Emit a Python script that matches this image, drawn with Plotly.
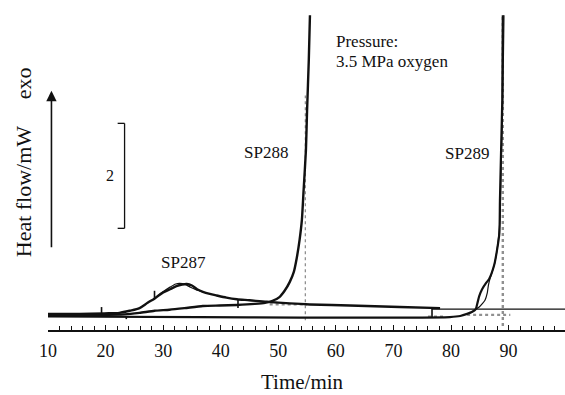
import plotly.graph_objects as go

# ---- data (time in min, heat flow in mW relative to the initial baseline) ----
sp287_t = [10, 15.5, 19.8, 22.4, 24.2, 25.9, 27.3, 28.6, 30.0, 31.2, 32.3, 33.3, 34.1, 35.0,
           35.9, 36.9, 38.1, 39.3, 41.0, 42.8, 45.0, 48.0, 52.0, 55.5, 62.4, 71.1, 78.1]
sp287_y = [0.04, 0.04, 0.05, 0.06, 0.10, 0.15, 0.25, 0.34, 0.45, 0.51, 0.57, 0.60, 0.61, 0.58,
           0.51, 0.46, 0.42, 0.39, 0.35, 0.32, 0.30, 0.27, 0.24, 0.22, 0.20, 0.17, 0.15]

sp287b_t = [28.6, 30.0, 31.2, 32.2, 32.9, 33.8, 34.7, 35.7, 36.9]
sp287b_y = [0.34, 0.46, 0.55, 0.61, 0.62, 0.60, 0.55, 0.50, 0.46]

sp288_t = [10, 19.0, 23.3, 25.9, 28.5, 31.1, 33.7, 36.9, 39.8, 42.8, 45.9, 47.7, 49.0, 50.2,
           51.1, 52.0, 52.7, 53.2, 53.7, 54.1, 54.4, 54.8, 55.0, 55.3, 55.5]
sp288_y = [0.02, 0.02, 0.03, 0.06, 0.10, 0.12, 0.15, 0.19, 0.20, 0.21, 0.23, 0.25, 0.29, 0.36,
           0.48, 0.65, 0.84, 1.10, 1.45, 1.83, 2.40, 3.16, 3.92, 4.88, 5.73]

sp289_t = [10, 36.3, 53.7, 71.1, 79.8, 81.6, 82.8, 83.7, 84.3, 84.6, 84.9, 85.4, 86.1, 86.6,
           87.5, 88.0, 88.4, 88.5, 88.7, 88.9, 89.0]
sp289_y = [-0.01, -0.02, -0.03, -0.03, -0.02, 0.00, 0.04, 0.08, 0.13, 0.25, 0.38, 0.51, 0.63, 0.70,
           0.97, 1.26, 1.58, 2.21, 3.16, 4.11, 5.73]

sp289b_t = [83.7, 84.3, 84.9, 85.4, 85.9, 86.3, 86.5, 86.8, 87.5, 88.0, 88.5, 88.7, 89.0, 89.2]
sp289b_y = [0.08, 0.13, 0.17, 0.23, 0.30, 0.44, 0.59, 0.72, 0.97, 1.26, 1.83, 2.78, 4.11, 5.73]

ext_t = [76.7, 99.8]
ext_y = [0.13, 0.13]

# integration limit markers
mark_t = [19.3, 23.6, 28.5, 43.0, 76.7]
mark_y0 = [0.04, 0.00, 0.34, 0.32, 0.15]
mark_y1 = [0.17, -0.06, 0.48, 0.15, -0.04]

# dotted construction lines
dot_v_t = [54.7, 89.0]
dot_v_y0 = [-0.08, -0.19]
dot_v_y1 = [4.2, 5.73]
dot_v_w = [1.3, 2.4]
dot_h_t0 = [48.5, 82.8, 76.0]
dot_h_t1 = [55.0, 90.3, 79.0]
dot_h_y = [0.22, 0.02, -0.01]

x_ticks = [10, 20, 30, 40, 50, 60, 70, 80, 90]
scale_bar_mw = 2

FONT = "Liberation Serif, Times New Roman, Times, serif"
BLACK = "#111111"
GREY = "#909090"

fig = go.Figure()

for t, a, b, w in zip(dot_v_t, dot_v_y0, dot_v_y1, dot_v_w):
    fig.add_trace(go.Scatter(x=[t, t], y=[a, b], mode="lines",
                             line=dict(color=GREY, width=w, dash="dot"), hoverinfo="skip"))
for a, b, y in zip(dot_h_t0, dot_h_t1, dot_h_y):
    fig.add_trace(go.Scatter(x=[a, b], y=[y, y], mode="lines",
                             line=dict(color=GREY, width=2.2, dash="dot"), hoverinfo="skip"))

fig.add_trace(go.Scatter(x=ext_t, y=ext_y, mode="lines", line=dict(color=BLACK, width=1.2)))
fig.add_trace(go.Scatter(x=sp289_t, y=sp289_y, mode="lines",
                         line=dict(color=BLACK, width=2.2, shape="spline", smoothing=0.6)))
fig.add_trace(go.Scatter(x=sp289b_t, y=sp289b_y, mode="lines",
                         line=dict(color=BLACK, width=1.2, shape="spline", smoothing=0.6)))
fig.add_trace(go.Scatter(x=sp288_t, y=sp288_y, mode="lines",
                         line=dict(color=BLACK, width=2.4, shape="spline", smoothing=0.6)))
fig.add_trace(go.Scatter(x=sp287_t, y=sp287_y, mode="lines",
                         line=dict(color=BLACK, width=2.4, shape="spline", smoothing=0.8)))
fig.add_trace(go.Scatter(x=sp287b_t, y=sp287b_y, mode="lines",
                         line=dict(color=BLACK, width=1.2, shape="spline", smoothing=0.8)))
for t, a, b in zip(mark_t, mark_y0, mark_y1):
    fig.add_trace(go.Scatter(x=[t, t], y=[a, b], mode="lines",
                             line=dict(color=BLACK, width=1.6), hoverinfo="skip"))

sb_x, sb_top = 23.3, 3.67
fig.add_shape(type="line", x0=sb_x, x1=sb_x, y0=sb_top - scale_bar_mw, y1=sb_top,
              line=dict(color=BLACK, width=1.3))
for yy in (sb_top, sb_top - scale_bar_mw):
    fig.add_shape(type="line", x0=sb_x - 1.2, x1=sb_x, y0=yy, y1=yy, line=dict(color=BLACK, width=1.3))

def txt(x, y, s, size=17, **kw):
    d = dict(x=x, y=y, text=s, showarrow=False, xanchor=kw.pop("xanchor", "center"),
             yanchor=kw.pop("yanchor", "middle"), font=dict(family=FONT, size=size, color=BLACK))
    d.update(kw)
    return d

ann = []
ann.append(txt(20.7, sb_top - scale_bar_mw / 2, str(scale_bar_mw), size=16))
ann.append(dict(x=10.6, y=4.29, ax=0, ay=158, text="", showarrow=True, arrowhead=2,
                arrowsize=1.3, arrowwidth=1.6, arrowcolor=BLACK))
ann.append(txt(33.6, 1.01, "SP287"))
ann.append(txt(47.8, 3.12, "SP288"))
ann.append(txt(82.8, 3.10, "SP289"))
ann.append(txt(59.6, 5.22, "Pressure:", xanchor="left"))
ann.append(txt(59.6, 4.84, "3.5 MPa oxygen", xanchor="left"))
ann.append(txt(0.493, -0.158, "Time/min", size=21, xref="paper", yref="paper"))
ann.append(txt(-0.048, 0.421, "Heat flow/mW", size=22, xref="paper", yref="paper", textangle=-90))
ann.append(txt(-0.048, 0.748, "exo", size=22, xref="paper", yref="paper", textangle=-90))

fig.update_layout(
    width=565, height=395,
    margin=dict(l=48, r=0, t=0, b=65),
    paper_bgcolor="white", plot_bgcolor="white",
    showlegend=False,
    annotations=ann,
    font=dict(family=FONT, color=BLACK),
    xaxis=dict(range=[10, 99.8], tickvals=x_ticks, ticks="inside", ticklen=5, tickwidth=1.3,
               tickcolor=BLACK, showline=True, linecolor=BLACK, linewidth=1.5,
               showgrid=False, zeroline=False, ticklabelstandoff=4,
               tickfont=dict(family=FONT, size=18, color=BLACK),
               minor=dict(dtick=2, tick0=10, ticks="inside", ticklen=4, tickwidth=1.1, tickcolor=BLACK,
                          showgrid=False)),
    yaxis=dict(range=[-0.267, 6.02], visible=False, showgrid=False, zeroline=False),
)

fig.write_html("out.html")
